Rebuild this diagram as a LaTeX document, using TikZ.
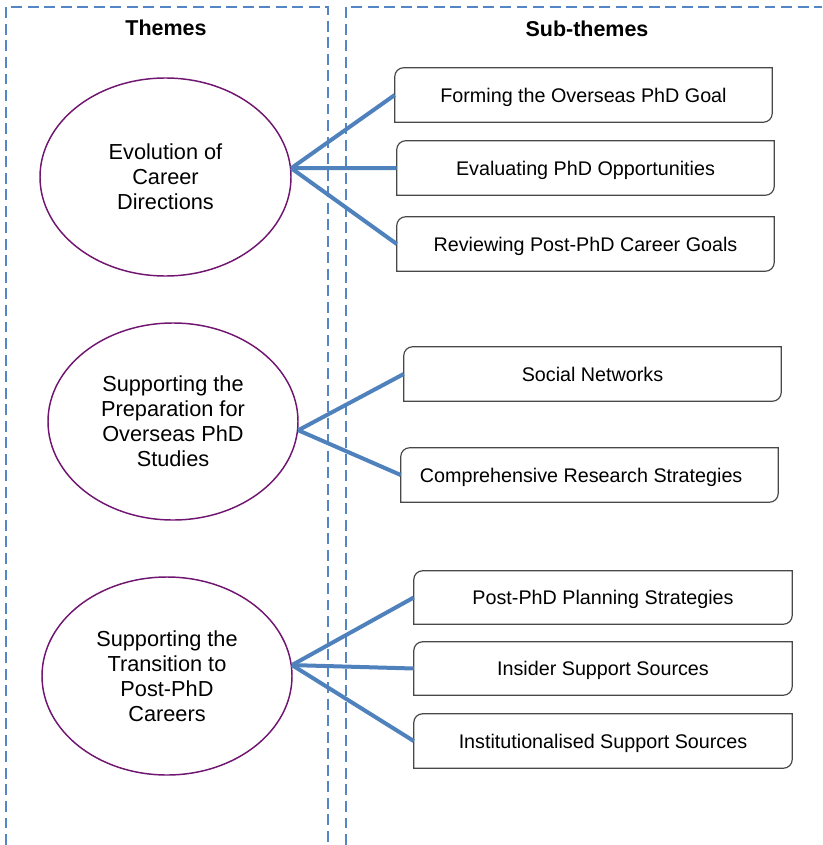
\documentclass[tikz,border=0pt]{standalone}
\usepackage{fontspec}
\setmainfont{Liberation Sans}
\usetikzlibrary{calc,shapes.geometric}

\definecolor{panelblue}{RGB}{84,133,196}
\definecolor{linkblue}{RGB}{79,129,189}
\definecolor{themepurple}{RGB}{112,22,112}
\definecolor{boxgray}{RGB}{72,72,72}

\tikzset{
  panel/.style={draw=panelblue, line width=1.1pt, dash pattern=on 8.2pt off 4.2pt},
  heading/.style={font=\fontsize{16.1}{19}\selectfont\bfseries, inner sep=0pt},
  theme/.style={ellipse, draw=themepurple, line width=1.1pt, inner sep=0pt,
    align=center, font=\fontsize{16.3}{18.75}\selectfont},
  subtheme/.style={rectangle, inner sep=0pt, align=center, text depth=0pt,
    minimum width=282.75pt, minimum height=40.5pt,
    font=\fontsize{14.8}{18.75}\selectfont},
  link/.style={draw=linkblue, line width=3pt},
  boxline/.style={draw=boxgray, line width=0.9pt}
}

% outline of a sub-theme box: rounded top-left and bottom-right corners
\newcommand{\snipoutline}[1]{%
  \draw[boxline] (#1.north east)
    -- ($(#1.south east)+(0,-9)$)
    .. controls ($(#1.south east)+(0,-4)$) and ($(#1.south east)+(-4,0)$) .. ($(#1.south east)+(-9,0)$)
    -- (#1.south west)
    -- ($(#1.north west)+(0,9)$)
    .. controls ($(#1.north west)+(0,4)$) and ($(#1.north west)+(4,0)$) .. ($(#1.north west)+(9,0)$)
    -- cycle;}

\begin{document}
\begin{tikzpicture}[x=0.75pt, y=-0.75pt]
  \useasboundingbox (0,0) rectangle (822,845);

  % dashed column frames
  \draw[panel] (6,845) -- (6,7) -- (328,7) -- (328,845);
  \draw[panel] (346,845) -- (346,7) -- (822,7);

  % column headings
  \node[heading] (h1) at (166,28) {Themes};
  \node[heading] (h2) at (587,29) {Sub-themes};

  % themes
  \node[theme, minimum width=188.25pt, minimum height=148.5pt] (e1) at (165.5,177)
    {Evolution of\\Career\\Directions};
  \node[theme, minimum width=187.5pt, minimum height=147.75pt] (e2) at (173,421.5)
    {Supporting the\\Preparation for\\Overseas PhD\\Studies};
  \node[theme, minimum width=187.5pt, minimum height=148.5pt] (e3) at (167,676)
    {Supporting the\\Transition to\\Post-PhD\\Careers};

  % sub-themes
  \node[subtheme] (b1) at (583.5,95) {Forming the Overseas PhD Goal};
  \node[subtheme] (b2) at (585.5,168) {Evaluating PhD Opportunities};
  \node[subtheme] (b3) at (585.5,244) {Reviewing Post-PhD Career Goals};
  \node[subtheme] (b4) at (592.5,374) {Social Networks};
  \node[subtheme] (b5) at (589.5,475) {Comprehensive Research Strategies\hspace*{12.5pt}};
  \node[subtheme, minimum width=283.5pt, minimum height=39.75pt] (b6) at (603,597.5) {Post-PhD Planning Strategies};
  \node[subtheme, minimum width=283.5pt, minimum height=39.75pt] (b7) at (603,668.5) {Insider Support Sources};
  \node[subtheme, minimum width=283.5pt, minimum height=40.5pt] (b8) at (603,741) {Institutionalised Support Sources};

  \foreach \b in {b1,b2,b3,b4,b5,b6,b7,b8} {\snipoutline{\b}}

  % theme to sub-theme links
  \draw[link] (e1.4) -- (b1.west);
  \draw[link] (e1.4) -- (b2.west);
  \draw[link] (e1.4) -- (b3.west);
  \draw[link] (e2.-4) -- (b4.west);
  \draw[link] (e2.-4) -- (b5.west);
  \draw[link] (e3.5) -- (b6.west);
  \draw[link] (e3.5) -- (b7.west);
  \draw[link] (e3.5) -- (b8.west);
\end{tikzpicture}
\end{document}
